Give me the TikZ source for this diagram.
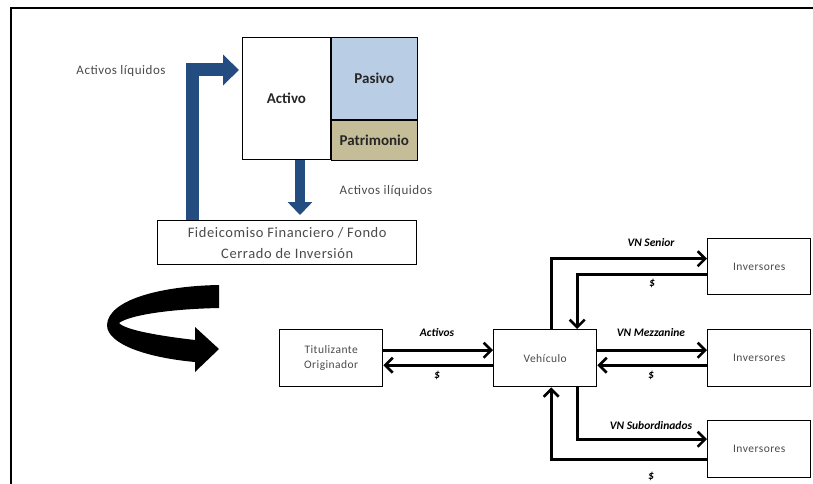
\documentclass[tikz,border=0pt]{standalone}
\usepackage{fontspec}
\setmainfont{Carlito}
\usetikzlibrary{arrows.meta}
\definecolor{secBlue}{HTML}{234C80}
\definecolor{secPale}{HTML}{B9CDE5}
\definecolor{secTan}{HTML}{C4BD97}
\definecolor{secInk}{HTML}{262626}
\definecolor{secGray}{HTML}{4A4A4A}
\newcommand{\secspaced}{\addfontfeatures{LetterSpace=4}}
\tikzset{
  sec frame/.style={draw=black, line width=2.8pt},
  sec cell/.style={draw=black, line width=0.9pt, anchor=north west, inner sep=0pt, font=\fontsize{15}{17}\selectfont\bfseries, text=secInk},
  sec box/.style={draw=black, line width=1.4pt, minimum width=103pt, minimum height=57pt, inner sep=0pt, anchor=north west, align=center, font=\fontsize{11.5}{15}\selectfont\secspaced, text=secGray},
  sec flow/.style={draw=black, line width=2.6pt, -{Straight Barb[length=7.5pt,width=15pt]}},
  sec label/.style={font=\fontsize{11.5}{12}\selectfont\bfseries\itshape, text=black},
  sec note/.style={font=\fontsize{13}{15}\selectfont\secspaced, text=secGray},
}

\begin{document}
\begin{tikzpicture}[x=1pt,y=-1pt]
  \useasboundingbox (0,0) rectangle (813,484);
  \draw[sec frame] (11,484) -- (11,8) -- (813,8);
  % balance sheet
  \node[sec cell, minimum width=88pt, minimum height=122pt] (activo) at (242,37) {Activo};
  \node[sec cell, fill=secPale, minimum width=86pt, minimum height=82pt] (pasivo) at (activo.north east) {Pasivo};
  \node[sec cell, fill=secTan, minimum width=86pt, minimum height=40pt] (patrim) at (pasivo.south west) {Patrimonio};
  \node[sec box, minimum width=259pt, minimum height=44pt, font=\fontsize{14.5}{21}\selectfont\secspaced] (fid) at (157,220) {Fideicomiso Financiero / Fondo\\Cerrado de Inversión};
  \node[sec note] (liq) at (121,71) {Activos líquidos};
  \node[sec note] (iliq) at (386,191) {Activos ilíquidos};
  \draw[secBlue, line width=13pt, -{Triangle[length=16pt,width=30pt]}, shorten >=3pt]
    ([xshift=35pt]fid.north west) |- ([yshift=-33pt]activo.north west);
  \coordinate (drop) at ([xshift=58pt]activo.south west);
  \draw[secBlue, line width=10pt, -{Triangle[length=13pt,width=24pt]}, shorten >=5pt]
    (drop) -- (drop |- fid.north);
  % turning arrow
  \fill[black] (219,285) .. controls (160,286) and (108,300) .. (107,325)
    .. controls (107,345) and (150,358) .. (195,362) -- (195,372) -- (219,349)
    -- (195,327) -- (195,340) .. controls (160,336) and (125,330) .. (119,323)
    .. controls (130,315) and (170,309) .. (219,308) -- cycle;
  % securitization flows
  \node[sec box] (tit) at (279,329) {Titulizante\\Originador};
  \node[sec box] (veh) at (493,329) {Vehículo};
  \node[sec box, minimum height=56pt] (invS) at (707,238) {Inversores};
  \node[sec box] (invM) at (707,329) {Inversores};
  \node[sec box] (invU) at (707,420) {Inversores};
  \draw[sec flow] ([yshift=8pt]tit.east) -- ([yshift=8pt]veh.west);
  \draw[sec flow] ([yshift=-7pt]veh.west) -- ([yshift=-7pt]tit.east);
  \draw[sec flow] ([yshift=8pt]veh.east) -- ([yshift=8pt]invM.west);
  \draw[sec flow] ([yshift=-7pt]invM.west) -- ([yshift=-7pt]veh.east);
  \draw[sec flow] ([xshift=6pt]veh.north) |- ([yshift=8pt]invS.west);
  \draw[sec flow] ([yshift=-8pt]invS.west) -| ([xshift=32pt]veh.north);
  \draw[sec flow] ([xshift=32pt]veh.south) |- ([yshift=10pt]invU.west);
  \draw[sec flow] ([yshift=-10pt]invU.west) -| ([xshift=6pt]veh.south);
  \node[sec label] (lAct) at (437,333) {Activos};
  \node[sec label] (lActP) at (437,375) {\$};
  \node[sec label] (lSen) at (651,243) {VN Senior};
  \node[sec label] (lSenP) at (652,283) {\$};
  \node[sec label] (lMez) at (651,333) {VN Mezzanine};
  \node[sec label] (lMezP) at (651,375) {\$};
  \node[sec label] (lSub) at (651,426) {VN Subordinados};
  \node[sec label] (lSubP) at (651,476) {\$};
\end{tikzpicture}
\end{document}
